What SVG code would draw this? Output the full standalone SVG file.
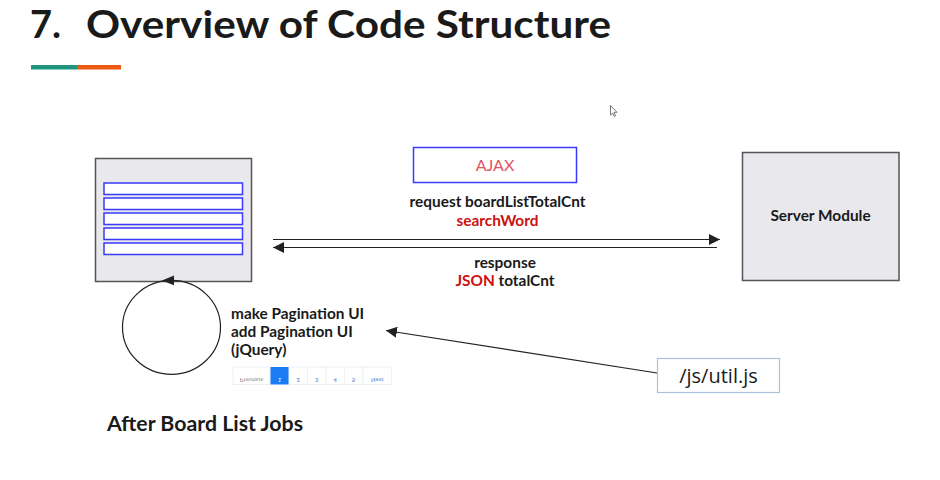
<svg xmlns="http://www.w3.org/2000/svg" width="940" height="480" viewBox="0 0 940 480">
  <style>
    .title { font-family: Lato, "Open Sans", "Liberation Sans", sans-serif; font-weight: 700; fill: #1a1a1a; }
    .lbl { font-family: Lato, "Liberation Sans", sans-serif; font-weight: 700; font-size: 15.4px; fill: #1a1a1a; }
    .red { fill: #cc1111; }
    .box { fill: #e9e9ed; stroke: #555; stroke-width: 1.5; }
    .row { fill: #ffffff; stroke: #3a3aff; stroke-width: 1.5; }
    .line { stroke: #222; stroke-width: 1.2; fill: none; }
    .pg { fill: #ffffff; stroke: #eef0f4; stroke-width: 1; }
    .pgt { font-family: "Liberation Sans", sans-serif; font-size: 6px; fill: #4a7fd0; text-anchor: middle; }
  </style>
  <defs>
    <marker id="arrow" viewBox="0 0 10 10" refX="10" refY="5" markerWidth="11" markerHeight="11" markerUnits="userSpaceOnUse" orient="auto">
      <path d="M0,0 L10,5 L0,10 z" fill="#222"/>
    </marker>
  </defs>

  <rect width="940" height="480" fill="#ffffff"/>

  <!-- heading -->
  <g id="heading">
    <text class="title" x="30" y="38" font-size="38">7.</text>
    <text class="title" x="86" y="38" font-size="38" textLength="525" lengthAdjust="spacingAndGlyphs">Overview of Code Structure</text>
    <rect x="31" y="65" width="46" height="4.5" fill="#1f9580"/>
    <rect x="77" y="65" width="44" height="4.5" fill="#ec5a12"/>
  </g>

  <!-- board list page -->
  <g id="board-list">
    <rect class="box" x="95.5" y="158.5" width="156" height="123"/>
    <rect class="row" x="104" y="183" width="138.5" height="11.5"/>
    <rect class="row" x="104" y="198" width="138.5" height="11.5"/>
    <rect class="row" x="104" y="213" width="138.5" height="11.5"/>
    <rect class="row" x="104" y="228" width="138.5" height="11.5"/>
    <rect class="row" x="104" y="243" width="138.5" height="11.5"/>
  </g>

  <!-- ajax label -->
  <g id="ajax">
    <rect x="413.5" y="147.5" width="163" height="35" fill="#ffffff" stroke="#3a3aff" stroke-width="1.5"/>
    <text x="495" y="170.5" font-family="Lato, 'Liberation Sans', sans-serif" font-size="16" fill="#e05565" text-anchor="middle">AJAX</text>
  </g>

  <!-- server module -->
  <g id="server-module">
    <rect class="box" x="742.5" y="152.5" width="156.5" height="128"/>
    <text class="lbl" x="820.5" y="221" text-anchor="middle">Server Module</text>
  </g>

  <!-- helper script -->
  <g id="util-js">
    <rect x="657.5" y="358.5" width="122" height="34" fill="#ffffff" stroke="#a9c3df" stroke-width="1.2"/>
    <text x="718.5" y="383" font-family="'Open Sans', 'Liberation Sans', sans-serif" font-size="20" fill="#1a1a1a" text-anchor="middle">/js/util.js</text>
  </g>

  <!-- pagination step -->
  <g id="pagination">
    <text class="lbl" x="231" y="319">make Pagination UI</text>
    <text class="lbl" x="231" y="337">add Pagination UI</text>
    <text class="lbl" x="231" y="355">(jQuery)</text>
    <g>
      <rect class="pg" x="233" y="367" width="37" height="17.5"/>
      <rect x="270.5" y="367" width="18.5" height="17.5" fill="#1a7cf5"/>
      <rect class="pg" x="289" y="367" width="18.5" height="17.5"/>
      <rect class="pg" x="307.5" y="367" width="18.5" height="17.5"/>
      <rect class="pg" x="326" y="367" width="18.5" height="17.5"/>
      <rect class="pg" x="344.5" y="367" width="18.5" height="17.5"/>
      <rect class="pg" x="363" y="367" width="28.5" height="17.5"/>
      <!-- labels are drawn mirrored top-to-bottom -->
      <g transform="translate(0,752) scale(1,-1)">
        <text class="pgt" x="251.5" y="374" style="fill:#8a8a8a">Previous</text>
        <text class="pgt" x="279.7" y="374" style="fill:#ffffff">1</text>
        <text class="pgt" x="298.2" y="374">2</text>
        <text class="pgt" x="316.7" y="374">3</text>
        <text class="pgt" x="335.2" y="374">4</text>
        <text class="pgt" x="353.7" y="374">5</text>
        <text class="pgt" x="377.2" y="374">Next</text>
      </g>
    </g>
  </g>

  <!-- caption -->
  <g id="caption">
    <text x="107" y="431" font-family="Lato, 'Liberation Sans', sans-serif" font-weight="700" font-size="21.3" fill="#1a1a1a">After Board List Jobs</text>
  </g>

  <!-- connector labels -->
  <g id="labels">
    <text class="lbl" x="497.5" y="207" text-anchor="middle">request boardListTotalCnt</text>
    <text class="lbl red" x="497.5" y="226" text-anchor="middle">searchWord</text>
    <text class="lbl" x="505" y="268" text-anchor="middle">response</text>
    <text class="lbl" x="505" y="286" text-anchor="middle"><tspan class="red">JSON</tspan> totalCnt</text>
  </g>

  <!-- connectors -->
  <g id="connectors">
    <line class="line" x1="273" y1="239.5" x2="720" y2="239.5" marker-end="url(#arrow)"/>
    <line class="line" x1="717" y1="247.5" x2="273" y2="247.5" marker-end="url(#arrow)"/>
    <line class="line" x1="657" y1="373" x2="386" y2="330.5" marker-end="url(#arrow)"/>
    <!-- loop back into the list page -->
    <ellipse class="line" cx="171.5" cy="327.3" rx="49" ry="47"/>
    <path d="M162,280.4 L174,275.6 L174,285.2 Z" fill="#222"/>
  </g>

  <!-- pointer -->
  <g id="pointer">
    <path d="M610.5,105.5 L610.5,115 L612.7,113 L614.2,116.5 L615.6,115.8 L614.1,112.4 L617,112.3 Z" fill="#ffffff" stroke="#555" stroke-width="0.8"/>
  </g>
</svg>
